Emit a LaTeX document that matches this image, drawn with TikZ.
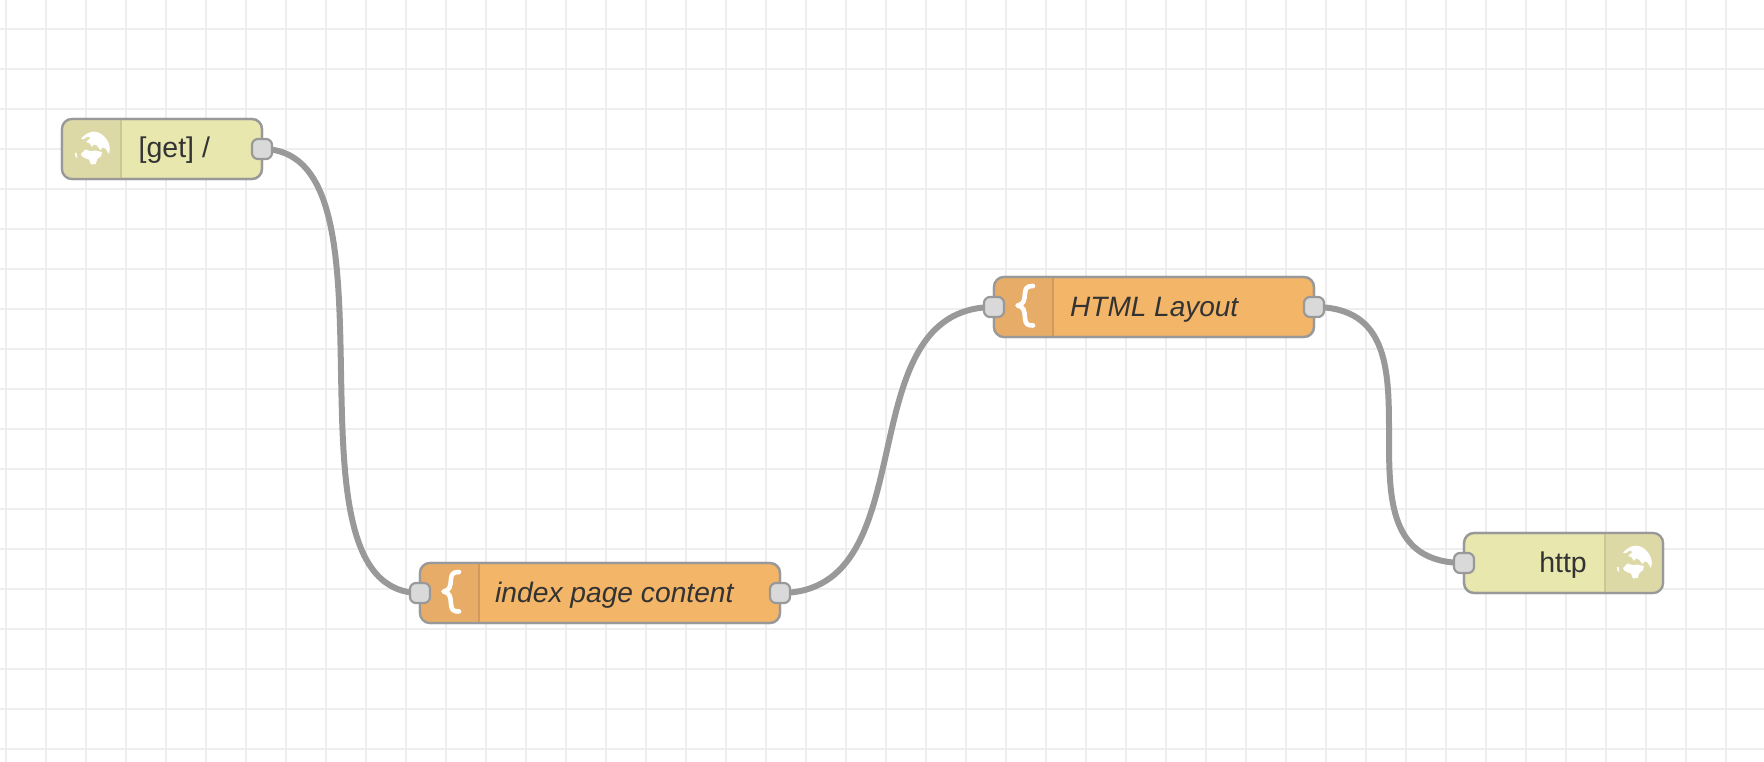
\documentclass[tikz,border=0pt]{standalone}
\usepackage{fontspec}
\setmainfont{Liberation Sans}
\usetikzlibrary{backgrounds}
\definecolor{gridc}{HTML}{EEEEEE}
\definecolor{wirec}{HTML}{999999}
\definecolor{portc}{HTML}{D9D9D9}
\definecolor{httpc}{HTML}{E7E7AE}
\definecolor{httptab}{HTML}{DDD9A6}
\definecolor{httpdiv}{HTML}{CBC795}
\definecolor{funcc}{HTML}{F3B567}
\definecolor{functab}{HTML}{E6AC68}
\definecolor{funcdiv}{HTML}{CF9A5C}
\definecolor{txt}{HTML}{333333}
\tikzset{
  nodebox/.style={draw=wirec,line width=2.2pt,rounded corners=10pt,inner sep=0pt,outer sep=0pt,minimum height=60pt,anchor=north west},
  httpbox/.style={nodebox,fill=httpc},
  funcbox/.style={nodebox,fill=funcc},
  portbox/.style={draw=wirec,fill=portc,line width=2.2pt,rounded corners=6pt,inner sep=0pt,outer sep=0pt,minimum width=20pt,minimum height=20pt},
  wire/.style={draw=wirec,line width=6pt},
  label/.style={text=txt,inner sep=0pt,font=\fontsize{28.5}{33}\selectfont},
  labeli/.style={text=txt,inner sep=0pt,font=\fontsize{28.2}{33}\selectfont\itshape},
  globe/.pic={
    \fill[white] (-11,-10.5) .. controls (-7,-14.5) and (-3,-17.2) .. (2,-17.4) .. controls (10,-17) and (17.6,-9) .. (17.8,0)
      -- (17,5) -- (13.5,-0.5) -- (10.7,-1.5) -- (8.3,1) -- (5,-3.5) -- (1.7,-4.5) -- (0,-2) -- (-2.7,-6) -- (-6,-7) -- (-1.5,-11) -- (-4,-12.5) -- (-9,-9.5) -- cycle;
    \fill[white] (-11,5) -- (-6.5,0.5) -- (-1.7,2) -- (3.3,1.6) -- (10,3) -- (9,7.2) -- (5.5,9.8) -- (3.6,15) -- (-1,15.5) -- (-3,10.6) -- (-7.2,9) -- (-10,7.2) -- cycle;
    \fill[white] (-17.2,4) -- (-15.5,4) -- (-14.8,8.6) -- (-16.2,8.6) -- cycle;
  },
  bracket/.pic={
    \draw[white,line width=4.6pt,line cap=round,line join=round]
      (39,-21) .. controls (33,-21) and (31.5,-19) .. (31,-14)
      .. controls (30.5,-7) and (30,-2.5) .. (23.5,-1.5)
      .. controls (30,-0.5) and (30.5,4) .. (31,11)
      .. controls (31.5,17) and (33,18.5) .. (39,18.5);
  }
}
% #1 node name, #2 offset of divider from the left edge, #3 tab colour, #4 divider colour
\newcommand\lefttab[4]{%
  \begin{scope}
    \clip[rounded corners=10pt] (#1.south west) rectangle (#1.north east);
    \fill[#3] (#1.north west) rectangle ([xshift=#2pt]#1.south west);
    \draw[#4,line width=2pt] ([xshift=#2pt]#1.north west) -- ([xshift=#2pt]#1.south west);
  \end{scope}
  \draw[wirec,line width=2.2pt,rounded corners=10pt] (#1.south west) rectangle (#1.north east);
}
\newcommand\righttab[4]{%
  \begin{scope}
    \clip[rounded corners=10pt] (#1.south west) rectangle (#1.north east);
    \fill[#3] (#1.north east) rectangle ([xshift=-#2pt]#1.south east);
    \draw[#4,line width=2pt] ([xshift=-#2pt]#1.north east) -- ([xshift=-#2pt]#1.south east);
  \end{scope}
  \draw[wirec,line width=2.2pt,rounded corners=10pt] (#1.south west) rectangle (#1.north east);
}
\begin{document}
\begin{tikzpicture}[x=1pt,y=-1pt]
\useasboundingbox (0,0) rectangle (1764,762);
\begin{scope}[on background layer]
  \fill[white] (0,0) rectangle (1764,762);
  \foreach \gx in {6,46,...,1766} \draw[gridc,line width=2pt] (\gx,0) -- (\gx,762);
  \foreach \gy in {29,69,...,749} \draw[gridc,line width=2pt] (0,\gy) -- (1764,\gy);
\end{scope}

% nodes
\node[httpbox,minimum width=200pt] (get) at (62,119) {};
\lefttab{get}{59}{httptab}{httpdiv}
\pic at (92,149) {globe};
\node[label,anchor=base west] (getl) at (138.5,158) {[get] /};
\node[portbox] (getout) at (get.east) {};

\node[funcbox,minimum width=360pt] (idx) at (420,563) {};
\lefttab{idx}{59}{functab}{funcdiv}
\pic at (idx.west) {bracket};
\node[labeli,anchor=base west] (idxl) at (495,602.5) {index page content};
\node[portbox] (idxin) at (idx.west) {};
\node[portbox] (idxout) at (idx.east) {};

\node[funcbox,minimum width=320pt] (html) at (994,277) {};
\lefttab{html}{59}{functab}{funcdiv}
\pic at (html.west) {bracket};
\node[labeli,anchor=base west,font=\fontsize{28}{33}\selectfont\itshape] (htmll) at (1070,316.5) {HTML Layout};
\node[portbox] (htmlin) at (html.west) {};
\node[portbox] (htmlout) at (html.east) {};

\node[httpbox,minimum width=199pt] (resp) at (1464,533) {};
\righttab{resp}{58}{httptab}{httpdiv}
\pic at (1634,563) {globe};
\node[label,anchor=base east] (respl) at (1587,572.5) {http};
\node[portbox] (respin) at (resp.west) {};

% wires
\begin{scope}[on background layer]
  \draw[wire] (getout.center) .. controls +(150,0) and ([xshift=-150pt]idxin.center) .. (idxin.center);
  \draw[wire] (idxout.center) .. controls +(150,0) and ([xshift=-150pt]htmlin.center) .. (htmlin.center);
  \draw[wire] (htmlout.center) .. controls +(150,0) and ([xshift=-150pt]respin.center) .. (respin.center);
\end{scope}
\end{tikzpicture}
\end{document}
